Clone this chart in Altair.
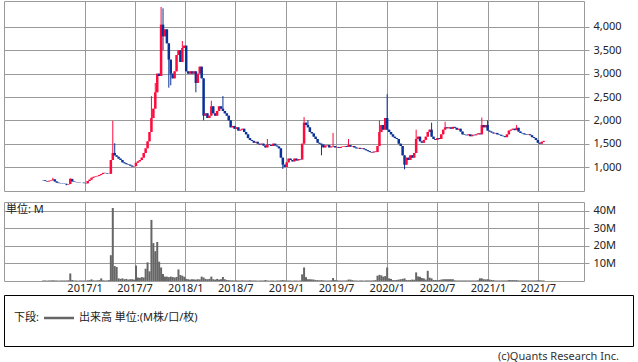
import altair as alt
import pandas as pd

# ---------------- data ----------------
WEEK_START = "2016-08-04"
FIRST_OPEN = 720

CLOSE = [
    715, 700, 690, 705, 715, 735, 690, 665, 655, 650,
    645, 640, 625, 635, 745, 690, 680, 675, 670, 665,
    665, 655, 650, 700, 730, 770, 790, 800, 810, 830,
    850, 875, 870, 860, 855, 1150, 1300, 1250, 1220, 1180,
    1150, 1100, 1080, 1060, 1050, 1030, 1010, 1020, 1090, 1120,
    1150, 1200, 1300, 1400, 1550, 1750, 2050, 2250, 2600, 3000,
    2950, 4050, 3800, 3950, 3650, 3300, 3000, 2900, 3050, 3400,
    3500, 3250, 3550, 3600, 3050, 3000, 3050, 3000, 3050, 2800,
    3000, 3150, 2900, 2100, 2150, 2050, 2100, 2300, 2150, 2100,
    2200, 2300, 2250, 2200, 2150, 2100, 2000, 1850, 1880, 1820,
    1850, 1780, 1800, 1820, 1750, 1700, 1620, 1580, 1560, 1520,
    1540, 1500, 1480, 1500, 1460, 1420, 1480, 1470, 1450, 1500,
    1460, 1440, 1400, 1200, 1050, 1000, 1100, 1180, 1150, 1120,
    1180, 1140, 1170, 1160, 1500, 1950, 1900, 1850, 1750, 1720,
    1650, 1600, 1520, 1500, 1480, 1420, 1460, 1470, 1420, 1440,
    1450, 1420, 1430, 1410, 1430, 1440, 1450, 1430, 1470, 1440,
    1450, 1420, 1400, 1410, 1390, 1400, 1380, 1360, 1340, 1320,
    1310, 1330, 1320, 1450, 1750, 1900, 1800, 2050, 1800, 1750,
    1700, 1650, 1620, 1600, 1500, 1450, 1250, 1050, 1200, 1150,
    1250, 1200, 1300, 1600, 1650, 1550, 1520, 1580, 1650, 1750,
    1800, 1650, 1600, 1580, 1620, 1600, 1700, 1800, 1850, 1830,
    1850, 1820, 1860, 1840, 1800, 1820, 1760, 1700, 1690, 1680,
    1700, 1660, 1690, 1680, 1700, 1720, 1700, 1900, 1850, 1900,
    1780, 1760, 1740, 1720, 1730, 1700, 1690, 1670, 1660, 1640,
    1700, 1780, 1800, 1820, 1790, 1840, 1760, 1730, 1720, 1700,
    1690, 1700, 1680, 1640, 1620, 1580, 1520, 1500, 1540, 1560,
]

# weekly volume, in millions
VOLUME_M = [
    0.3, 0.3, 0.2, 0.3, 0.3, 0.4, 0.3, 0.3, 0.2, 0.3,
    0.3, 0.3, 0.3, 0.4, 4.3, 0.6, 0.3, 0.3, 0.2, 0.3,
    0.3, 0.3, 0.2, 0.4, 0.5, 0.9, 0.4, 0.3, 0.4, 0.5,
    1.5, 0.4, 0.3, 0.3, 0.5, 14.7, 41.6, 8.5, 8.0, 1.5,
    1.2, 1.5, 1.0, 1.2, 0.8, 1.0, 1.0, 0.8, 8.8, 2.0,
    1.8, 2.2, 2.0, 7.0, 10.6, 5.5, 34.8, 21.6, 17.0, 22.2,
    11.0, 7.7, 4.0, 2.5, 2.5, 2.2, 2.5, 2.3, 2.0, 2.3,
    6.6, 3.4, 3.0, 2.4, 1.2, 1.0, 0.8, 1.0, 0.9, 0.8,
    1.0, 0.9, 2.5, 2.0, 1.2, 1.0, 1.2, 2.5, 1.0, 0.8,
    1.2, 0.8, 1.0, 2.3, 1.0, 0.6, 0.5, 0.4, 0.4, 0.3,
    0.4, 0.3, 0.3, 0.4, 0.3, 0.3, 0.3, 0.4, 0.3, 0.3,
    0.3, 0.2, 0.3, 0.3, 0.3, 0.6, 0.3, 0.2, 0.3, 0.3,
    0.2, 0.3, 0.3, 0.4, 0.5, 0.4, 0.3, 0.3, 0.3, 0.2,
    0.3, 0.3, 0.2, 0.3, 3.8, 7.7, 2.2, 1.0, 1.0, 0.9,
    0.8, 0.5, 0.5, 0.4, 0.5, 0.4, 0.3, 0.3, 0.3, 0.4,
    1.7, 0.5, 0.4, 0.3, 0.3, 0.3, 0.3, 0.4, 0.8, 0.8,
    0.5, 0.3, 0.3, 0.2, 0.3, 0.3, 0.2, 0.3, 0.3, 0.3,
    0.3, 0.4, 0.5, 3.0, 3.5, 3.2, 2.5, 2.8, 7.7, 1.5,
    1.2, 0.5, 0.5, 0.6, 0.8, 1.0, 1.2, 1.5, 0.6, 0.5,
    0.6, 0.8, 0.7, 4.9, 2.6, 2.4, 1.7, 1.5, 0.8, 5.8,
    1.9, 1.5, 0.6, 0.6, 0.5, 0.6, 0.8, 1.0, 1.0, 1.0,
    1.0, 1.0, 1.0, 0.4, 0.3, 0.3, 0.3, 0.3, 0.3, 0.3,
    0.3, 0.3, 0.3, 0.3, 0.3, 0.4, 1.5, 1.5, 1.0, 0.9,
    1.0, 0.8, 0.6, 0.5, 0.3, 0.3, 0.3, 0.3, 0.3, 0.3,
    0.3, 0.5, 0.5, 0.5, 0.5, 0.5, 0.3, 0.3, 0.3, 0.3,
    0.3, 0.3, 0.3, 0.3, 0.3, 0.3, 0.4, 0.4, 0.3, 0.3,
]

# weekly highs / lows that reach beyond the candle body (week index -> price)
HIGH_WICK = {5: 770, 14: 760, 36: 1990, 37: 1510, 56: 2520, 58: 2800, 61: 4430,
             62: 4400, 64: 3950, 72: 3700, 87: 2420, 93: 2520, 116: 1600,
             135: 2070, 137: 2000, 150: 1730, 158: 1600, 174: 2000, 178: 2560,
             193: 1800, 201: 1950, 208: 1970, 227: 2060, 230: 2000, 245: 1900}
LOW_WICK = {12: 610, 62: 3500, 65: 2700, 66: 2750, 79: 2600, 83: 2000,
            124: 960, 144: 1250, 187: 950}

PRICE_TICKS = [1000, 1500, 2000, 2500, 3000, 3500, 4000]
VOLUME_TICKS = [10, 20, 30, 40]
DATE_TICKS = ["2017-01-01", "2017-07-01", "2018-01-01", "2018-07-01", "2019-01-01",
              "2019-07-01", "2020-01-01", "2020-07-01", "2021-01-01", "2021-07-01"]
X_DOMAIN = ["2016-04-02", "2021-11-27"]
PRICE_DOMAIN = [486, 4557]
VOLUME_DOMAIN = [0, 45]

UNIT_LABEL = "単位: M"
LEGEND_PREFIX = "下段:"
LEGEND_TEXT = "出来高 単位:(M株/口/枚)"
COPYRIGHT = "(c)Quants Research Inc."

# ---------------- styling ----------------
RED = "#ff0a3c"
BLUE = "#0a3296"
GRID = "#9a9a9a"
VOL_GRAY = "#666666"
TXT = "#222222"
FONT = "Noto Sans, Noto Sans CJK JP"
JP_FONT = "Noto Sans, Noto Sans CJK JP"


def ms(s):
    return int(pd.Timestamp(s, tz="UTC").value // 10**6)


dates = pd.date_range(WEEK_START, periods=len(CLOSE), freq="7D")
opens = [FIRST_OPEN] + CLOSE[:-1]
rows = []
for i, (d, o, c, v) in enumerate(zip(dates, opens, CLOSE, VOLUME_M)):
    rows.append({
        "date": d.strftime("%Y-%m-%d"),
        "open": o, "close": c,
        "high": max(o, c, HIGH_WICK.get(i, 0)),
        "low": min(o, c, LOW_WICK.get(i, 10**9)),
        "vol": v,
        "dir": "up" if c >= o else "down",
    })
df = pd.DataFrame(rows)

x_scale = alt.Scale(type="utc", domain=[ms(d) for d in X_DOMAIN])
tick_ms = [ms(d) for d in DATE_TICKS]

x_top_axis = alt.Axis(values=tick_ms, grid=True, labels=False, ticks=False,
                      domain=False, title=None, gridColor=GRID, gridOpacity=1)
price_scale = alt.Scale(domain=PRICE_DOMAIN, nice=False, zero=False)
price_axis = alt.Axis(orient="right", values=PRICE_TICKS, format=",.0f", grid=True,
                      gridColor=GRID, gridOpacity=1, tickColor=GRID, tickSize=5,
                      domain=False, labelPadding=4, title=None, labelOverlap=False)
color = alt.Color("dir:N", scale=alt.Scale(domain=["up", "down"], range=[RED, BLUE]),
                  legend=None)

base = alt.Chart(df)
wicks = base.mark_rule(strokeWidth=1).encode(
    x=alt.X("date:T", scale=x_scale, axis=x_top_axis),
    y=alt.Y("low:Q", scale=price_scale, axis=price_axis),
    y2="high:Q", color=color)
bodies = base.mark_bar(size=2.5).encode(
    x=alt.X("date:T", scale=x_scale, axis=x_top_axis),
    y=alt.Y("open:Q", scale=price_scale, axis=price_axis),
    y2="close:Q", color=color)
top = alt.layer(wicks, bodies).properties(width=580, height=190)

x_bot = alt.X("date:T", scale=x_scale,
              axis=alt.Axis(values=tick_ms, grid=True, ticks=False, tickSize=0, domain=False,
                            title=None, gridColor=GRID, gridOpacity=1, labelPadding=1,
                            labelOverlap=False,
                            labelExpr="utcFormat(datum.value, '%Y/%-m')"))
y_vol = alt.Y("vol:Q", scale=alt.Scale(domain=VOLUME_DOMAIN, nice=False),
              axis=alt.Axis(orient="right", values=VOLUME_TICKS, labelExpr="datum.value + 'M'",
                            grid=True, gridColor=GRID, gridOpacity=1, tickColor=GRID,
                            tickSize=5, domain=False, labelPadding=4, title=None))
vol_bars = base.mark_bar(size=2, color=VOL_GRAY).encode(x=x_bot, y=y_vol)
unit_txt = alt.Chart(pd.DataFrame({"t": [UNIT_LABEL]})).mark_text(
    align="left", baseline="middle", font=JP_FONT, fontSize=11, color=TXT
).encode(text="t:N", x=alt.value(2), y=alt.value(8))
bottom = alt.layer(vol_bars, unit_txt).properties(width=580, height=79)

panels = alt.vconcat(top, bottom, spacing=9)

leg_prefix = alt.Chart(pd.DataFrame({"t": [LEGEND_PREFIX]})).mark_text(
    align="left", baseline="middle", font=JP_FONT, fontSize=11, color=TXT
).encode(text="t:N", x=alt.value(10), y=alt.value(23))
leg_line = alt.Chart(pd.DataFrame({"t": [LEGEND_TEXT]})).mark_rule(
    color=VOL_GRAY, strokeWidth=2.5
).encode(x=alt.value(40), x2=alt.value(70), y=alt.value(23))
leg_text = alt.Chart(pd.DataFrame({"t": [LEGEND_TEXT]})).mark_text(
    align="left", baseline="middle", font=JP_FONT, fontSize=11, color=TXT
).encode(text="t:N", x=alt.value(75), y=alt.value(23))
copy_txt = alt.Chart(pd.DataFrame({"t": [COPYRIGHT]})).mark_text(
    align="right", baseline="middle", font=FONT, fontSize=11, color="#333333"
).encode(text="t:N", x=alt.value(615), y=alt.value(62))
legend = alt.layer(leg_prefix, leg_line, leg_text, copy_txt).properties(
    width=629, height=51, view=alt.ViewBackground(stroke="#000000", strokeWidth=1)
)

chart = alt.vconcat(panels, legend, spacing=0).properties(
    padding={"left": 3, "top": 0, "right": 0, "bottom": 0},
    background="white",
).configure_view(stroke=GRID, strokeWidth=1).configure_axis(
    labelFont=FONT, labelFontSize=11, labelColor=TXT
)

chart.save("out.html", embed_options={"renderer": "svg", "actions": False})
